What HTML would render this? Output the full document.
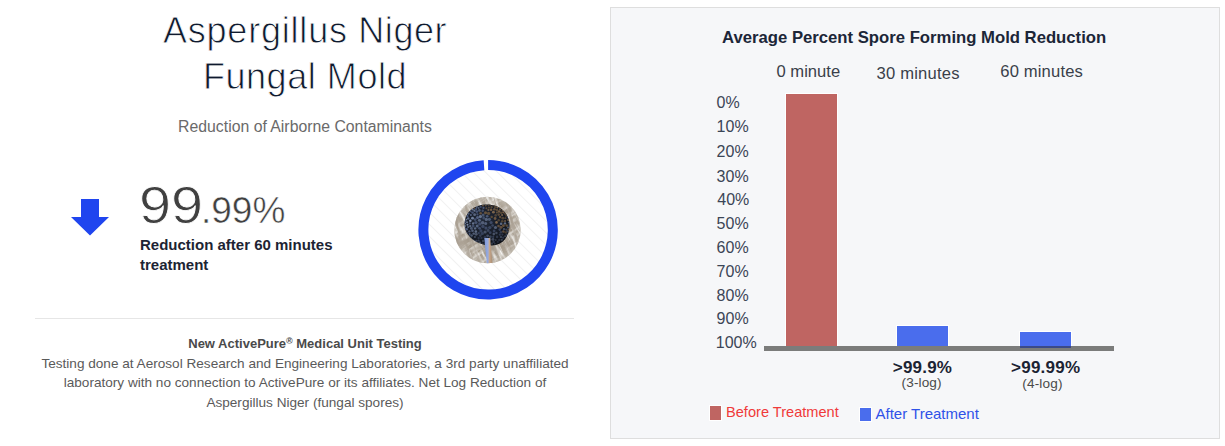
<!DOCTYPE html>
<html>
<head>
<meta charset="utf-8">
<style>
html,body{margin:0;padding:0;background:#fff;}
body{width:1225px;height:446px;position:relative;overflow:hidden;font-family:"Liberation Sans",Arial,sans-serif;}
.a{position:absolute;white-space:nowrap;line-height:1;}
#title{left:105px;width:400px;top:8px;font-size:36px;line-height:46px;color:#0f1a2e;text-align:center;letter-spacing:0.55px;-webkit-text-stroke:0.8px #fff;}
#sub{left:105px;width:400px;top:119.3px;font-size:15.8px;color:#6a6a6a;text-align:center;}
#big{left:139px;top:180px;font-size:51px;color:#404040;transform:scaleX(1.13);transform-origin:0 0;-webkit-text-stroke:0.8px #fff;}
#big2{left:201px;top:191.5px;font-size:37px;color:#404040;transform:scaleX(1.0);transform-origin:0 0;-webkit-text-stroke:0.5px #fff;}
#red{left:140px;top:234.5px;font-size:15px;line-height:20px;font-weight:700;color:#1d2433;white-space:normal;width:220px;}
#hr{position:absolute;left:35px;top:318px;width:539px;height:1px;background:#e6e6e6;}
#foot{left:35px;width:540px;top:334px;font-size:13.6px;line-height:19.6px;color:#5a5a5a;text-align:center;white-space:normal;}
#foot b{color:#4a4a4a;font-size:13px;}
#panel{position:absolute;left:610px;top:7px;width:608px;height:430px;border:1px solid #dedede;background:#f6f7f9;}
#ctitle{left:722px;top:30px;font-size:16.7px;font-weight:700;color:#1c2638;}
.min{font-size:16.6px;color:#3a3f4a;}
.yl{font-size:16px;color:#3b4556;}
.bl{font-size:17px;font-weight:700;color:#1c2433;}
.lg{font-size:13.6px;color:#4a4a4a;}
</style>
</head>
<body>
<div class="a" id="title"><span style="letter-spacing:0.8px">Aspergillus</span> Niger<br>Fungal Mold</div>
<div class="a" id="sub">Reduction of Airborne Contaminants</div>

<svg style="position:absolute;left:0;top:0" width="600" height="320">
  <polygon points="81,199 99,199 99,217 109,217 90,235.5 71,217 81,217" fill="#1f45ef"/>
</svg>

<div class="a" id="big">99</div><div class="a" id="big2">.99%</div>
<div class="a" id="red">Reduction after 60 minutes treatment</div>

<!-- donut -->
<svg style="position:absolute;left:408px;top:149px" width="160" height="160" viewBox="408 149 160 160">
  <defs>
    <pattern id="st" patternUnits="userSpaceOnUse" width="8.5" height="8.5" patternTransform="rotate(-45)">
      <rect width="8.5" height="8.5" fill="#fff"/>
      <rect x="0" y="0" width="0.8" height="8.5" fill="#efefef"/>
    </pattern>
    <clipPath id="pc"><circle cx="487.5" cy="230" r="33.2"/></clipPath>
    <clipPath id="hc"><path d="M464.6 225 C464.6 212 474 204.5 487 204.5 C500 204.5 509.5 213 509.5 225 C509.5 236 503 245.5 492 245.5 C480 246 465 238 464.6 225 Z"/></clipPath>
    <radialGradient id="bg" cx="0.5" cy="0.5" r="0.5">
      <stop offset="0" stop-color="#857968"/>
      <stop offset="0.7" stop-color="#aba193"/>
      <stop offset="1" stop-color="#cbc6bd"/>
    </radialGradient>
    <radialGradient id="hd" cx="0.42" cy="0.4" r="0.62">
      <stop offset="0" stop-color="#222a3a"/>
      <stop offset="0.6" stop-color="#161b25"/>
      <stop offset="1" stop-color="#0c0e12"/>
    </radialGradient>
    <linearGradient id="stk" x1="0" y1="0" x2="1" y2="0">
      <stop offset="0" stop-color="#7d98d8"/>
      <stop offset="0.45" stop-color="#98ace0"/>
      <stop offset="0.6" stop-color="#c8a88c"/>
      <stop offset="1" stop-color="#a88c72"/>
    </linearGradient>
    <filter id="fib" filterUnits="userSpaceOnUse" x="430" y="170" width="116" height="116">
      <feTurbulence type="fractalNoise" baseFrequency="0.05 0.32" numOctaves="2" seed="4"/>
      <feColorMatrix type="matrix" values="0 0 0 0 0.92  0 0 0 0 0.91  0 0 0 0 0.89  3.2 0 0 0 -1.45"/>
    </filter>
    <filter id="fib2" filterUnits="userSpaceOnUse" x="430" y="170" width="116" height="116">
      <feTurbulence type="fractalNoise" baseFrequency="0.05 0.3" numOctaves="2" seed="9"/>
      <feColorMatrix type="matrix" values="0 0 0 0 0.40  0 0 0 0 0.35  0 0 0 0 0.29  3.2 0 0 0 -1.35"/>
    </filter>
  </defs>
  <circle cx="488.1" cy="229.8" r="60" fill="url(#st)"/>
  <path d="M488.1 165.1 A64.7 64.7 0 1 1 484.0 165.23" fill="none" stroke="#1f45ef" stroke-width="10"/>
  <g clip-path="url(#pc)">
    <rect x="450" y="192" width="76" height="76" fill="url(#bg)"/>
    <rect x="430" y="170" width="116" height="116" filter="url(#fib)" transform="rotate(60 487.5 230)"/>
    <rect x="430" y="170" width="116" height="116" filter="url(#fib)" transform="rotate(-35 487.5 230)" opacity="0.7"/>
    <rect x="430" y="170" width="116" height="116" filter="url(#fib2)" transform="rotate(75 487.5 230)"/>
        <g clip-path="url(#hc)">
      <rect x="460" y="200" width="54" height="50" fill="url(#hd)"/>
<circle cx="491.1" cy="222.5" r="1.6" fill="#55648a" opacity="0.59"/>
<circle cx="488.4" cy="210.0" r="1.1" fill="#8c7052" opacity="0.72"/>
<circle cx="473.1" cy="223.4" r="1.2" fill="#8292b2" opacity="0.71"/>
<circle cx="496.5" cy="222.4" r="1.3" fill="#8c7052" opacity="0.90"/>
<circle cx="487.6" cy="235.8" r="1.4" fill="#7486a8" opacity="0.45"/>
<circle cx="480.7" cy="206.9" r="1.1" fill="#55648a" opacity="0.62"/>
<circle cx="499.7" cy="229.6" r="1.3" fill="#55648a" opacity="0.56"/>
<circle cx="494.1" cy="231.0" r="1.4" fill="#55648a" opacity="0.51"/>
<circle cx="508.2" cy="219.9" r="1.0" fill="#8c7052" opacity="0.87"/>
<circle cx="498.7" cy="220.2" r="1.2" fill="#62503a" opacity="0.73"/>
<circle cx="490.2" cy="232.7" r="1.4" fill="#55648a" opacity="0.50"/>
<circle cx="478.6" cy="208.1" r="1.0" fill="#8292b2" opacity="0.55"/>
<circle cx="493.4" cy="212.2" r="1.4" fill="#8c7052" opacity="0.85"/>
<circle cx="472.5" cy="218.2" r="1.4" fill="#8292b2" opacity="0.84"/>
<circle cx="501.2" cy="212.8" r="1.3" fill="#62503a" opacity="0.85"/>
<circle cx="490.3" cy="239.5" r="1.3" fill="#63739a" opacity="0.39"/>
<circle cx="479.4" cy="220.2" r="1.5" fill="#7486a8" opacity="0.64"/>
<circle cx="477.5" cy="217.4" r="1.5" fill="#63739a" opacity="0.75"/>
<circle cx="476.1" cy="209.0" r="1.1" fill="#55648a" opacity="0.80"/>
<circle cx="499.8" cy="234.7" r="1.1" fill="#55648a" opacity="0.47"/>
<circle cx="489.0" cy="243.7" r="1.1" fill="#7486a8" opacity="0.34"/>
<circle cx="467.0" cy="222.2" r="1.0" fill="#8292b2" opacity="0.78"/>
<circle cx="485.5" cy="212.8" r="1.5" fill="#6e5840" opacity="0.91"/>
<circle cx="475.9" cy="222.5" r="1.6" fill="#63739a" opacity="0.60"/>
<circle cx="505.0" cy="223.4" r="1.2" fill="#8292b2" opacity="0.65"/>
<circle cx="479.9" cy="242.6" r="1.2" fill="#8292b2" opacity="0.42"/>
<circle cx="495.7" cy="239.9" r="1.0" fill="#7486a8" opacity="0.31"/>
<circle cx="469.4" cy="231.4" r="1.2" fill="#63739a" opacity="0.63"/>
<circle cx="479.5" cy="228.3" r="1.4" fill="#55648a" opacity="0.68"/>
<circle cx="502.1" cy="215.0" r="1.1" fill="#8c7052" opacity="0.79"/>
<circle cx="489.8" cy="227.6" r="1.7" fill="#63739a" opacity="0.46"/>
<circle cx="475.1" cy="228.4" r="1.2" fill="#7486a8" opacity="0.72"/>
<circle cx="485.7" cy="223.6" r="1.5" fill="#7486a8" opacity="0.60"/>
<circle cx="481.5" cy="238.0" r="1.1" fill="#55648a" opacity="0.37"/>
<circle cx="473.7" cy="233.6" r="1.2" fill="#7486a8" opacity="0.62"/>
<circle cx="483.5" cy="207.9" r="1.1" fill="#63739a" opacity="0.65"/>
<circle cx="495.5" cy="227.5" r="1.6" fill="#8292b2" opacity="0.56"/>
<circle cx="503.4" cy="225.7" r="1.4" fill="#6e5840" opacity="0.88"/>
<circle cx="491.7" cy="216.9" r="1.2" fill="#62503a" opacity="0.90"/>
<circle cx="486.0" cy="228.1" r="1.6" fill="#55648a" opacity="0.58"/>
<circle cx="468.5" cy="213.7" r="1.1" fill="#63739a" opacity="0.74"/>
<circle cx="476.4" cy="240.9" r="1.2" fill="#55648a" opacity="0.49"/>
<circle cx="468.6" cy="236.0" r="1.1" fill="#8292b2" opacity="0.52"/>
<circle cx="482.3" cy="233.5" r="1.6" fill="#55648a" opacity="0.51"/>
<circle cx="505.7" cy="232.4" r="1.2" fill="#62503a" opacity="0.66"/>
<circle cx="483.7" cy="218.0" r="1.4" fill="#63739a" opacity="0.51"/>
<circle cx="470.3" cy="220.7" r="1.3" fill="#8292b2" opacity="0.89"/>
<circle cx="499.3" cy="240.0" r="1.2" fill="#63739a" opacity="0.29"/>
<circle cx="497.1" cy="236.9" r="1.3" fill="#63739a" opacity="0.33"/>
<circle cx="488.6" cy="213.4" r="1.6" fill="#62503a" opacity="0.93"/>
<circle cx="483.1" cy="214.9" r="1.5" fill="#7486a8" opacity="0.50"/>
<circle cx="478.7" cy="233.1" r="1.2" fill="#55648a" opacity="0.50"/>
<circle cx="508.0" cy="227.4" r="1.1" fill="#8292b2" opacity="0.50"/>
<circle cx="491.9" cy="243.7" r="1.1" fill="#7486a8" opacity="0.34"/>
<circle cx="502.3" cy="221.2" r="1.3" fill="#62503a" opacity="0.78"/>
<circle cx="496.4" cy="233.0" r="1.2" fill="#8292b2" opacity="0.40"/>
<circle cx="476.8" cy="211.6" r="1.3" fill="#55648a" opacity="0.78"/>
<circle cx="491.6" cy="207.1" r="1.2" fill="#62503a" opacity="0.82"/>
<circle cx="467.5" cy="224.7" r="1.0" fill="#8292b2" opacity="0.94"/>
<circle cx="500.1" cy="217.0" r="1.2" fill="#62503a" opacity="0.95"/>
<circle cx="494.5" cy="209.2" r="1.3" fill="#806448" opacity="0.73"/>
<circle cx="507.6" cy="231.4" r="1.2" fill="#7486a8" opacity="0.42"/>
<circle cx="493.6" cy="241.9" r="1.2" fill="#63739a" opacity="0.36"/>
<circle cx="497.4" cy="207.4" r="1.1" fill="#8c7052" opacity="0.85"/>
<circle cx="500.9" cy="236.9" r="1.2" fill="#8292b2" opacity="0.36"/>
<circle cx="470.8" cy="238.5" r="1.1" fill="#7486a8" opacity="0.58"/>
<circle cx="483.1" cy="240.9" r="1.2" fill="#7486a8" opacity="0.38"/>
<circle cx="468.2" cy="218.4" r="1.2" fill="#8292b2" opacity="0.70"/>
<circle cx="487.3" cy="239.0" r="1.3" fill="#8292b2" opacity="0.34"/>
<circle cx="470.2" cy="226.2" r="1.1" fill="#8292b2" opacity="0.64"/>
<circle cx="480.6" cy="213.2" r="1.3" fill="#6e5840" opacity="0.81"/>
<circle cx="471.4" cy="228.4" r="1.4" fill="#7486a8" opacity="0.59"/>
<circle cx="493.2" cy="236.9" r="1.1" fill="#55648a" opacity="0.45"/>
<circle cx="506.2" cy="215.8" r="1.1" fill="#62503a" opacity="0.71"/>
<circle cx="503.1" cy="237.7" r="1.1" fill="#63739a" opacity="0.35"/>
<circle cx="486.3" cy="219.4" r="1.6" fill="#8292b2" opacity="0.57"/>
<circle cx="508.8" cy="222.6" r="1.0" fill="#8292b2" opacity="0.52"/>
<circle cx="495.7" cy="215.4" r="1.3" fill="#6e5840" opacity="0.66"/>
<circle cx="500.1" cy="209.4" r="1.1" fill="#6e5840" opacity="0.92"/>
<circle cx="505.1" cy="236.3" r="1.0" fill="#8292b2" opacity="0.39"/>
<circle cx="477.2" cy="226.0" r="1.5" fill="#7486a8" opacity="0.66"/>
<circle cx="504.0" cy="229.1" r="1.1" fill="#8292b2" opacity="0.51"/>
<circle cx="472.6" cy="240.0" r="1.0" fill="#63739a" opacity="0.50"/>
<circle cx="474.6" cy="214.7" r="1.4" fill="#8292b2" opacity="0.60"/>
<circle cx="472.5" cy="212.6" r="1.2" fill="#55648a" opacity="0.79"/>
<circle cx="466.5" cy="232.9" r="1.1" fill="#63739a" opacity="0.65"/>
<circle cx="464.8" cy="226.0" r="1.0" fill="#8292b2" opacity="0.94"/>
<circle cx="486.4" cy="208.2" r="1.0" fill="#6e5840" opacity="0.78"/>
<circle cx="478.6" cy="238.0" r="1.1" fill="#55648a" opacity="0.41"/>
<circle cx="505.1" cy="213.8" r="1.1" fill="#6e5840" opacity="0.73"/>
<circle cx="471.6" cy="235.5" r="1.3" fill="#7486a8" opacity="0.54"/>
<circle cx="485.2" cy="243.7" r="1.0" fill="#7486a8" opacity="0.28"/>
<circle cx="496.9" cy="212.5" r="1.1" fill="#62503a" opacity="0.92"/>
<circle cx="501.1" cy="223.7" r="1.3" fill="#8292b2" opacity="0.64"/>
<circle cx="488.9" cy="207.6" r="1.1" fill="#62503a" opacity="0.75"/>
<circle cx="485.1" cy="232.0" r="1.6" fill="#8292b2" opacity="0.44"/>
<circle cx="495.1" cy="218.5" r="1.4" fill="#806448" opacity="0.81"/>
<circle cx="482.6" cy="222.7" r="1.7" fill="#8292b2" opacity="0.53"/>
<circle cx="477.4" cy="214.3" r="1.1" fill="#55648a" opacity="0.69"/>
<circle cx="502.8" cy="218.2" r="1.4" fill="#62503a" opacity="0.76"/>
<circle cx="474.9" cy="237.0" r="1.1" fill="#7486a8" opacity="0.45"/>
<circle cx="500.9" cy="232.2" r="1.3" fill="#63739a" opacity="0.38"/>
<circle cx="501.0" cy="227.3" r="1.5" fill="#806448" opacity="0.70"/>
<circle cx="480.4" cy="216.6" r="1.6" fill="#8292b2" opacity="0.71"/>
<circle cx="485.0" cy="237.2" r="1.3" fill="#55648a" opacity="0.41"/>
<circle cx="472.6" cy="209.4" r="1.0" fill="#8292b2" opacity="0.79"/>
<circle cx="485.8" cy="205.5" r="1.0" fill="#62503a" opacity="0.85"/>
<circle cx="482.8" cy="243.5" r="1.0" fill="#63739a" opacity="0.28"/>
<circle cx="498.5" cy="226.0" r="1.3" fill="#806448" opacity="0.68"/>
<circle cx="505.1" cy="221.0" r="1.1" fill="#8c7052" opacity="0.69"/>
<circle cx="479.4" cy="210.4" r="1.3" fill="#7486a8" opacity="0.55"/>
<circle cx="466.8" cy="229.2" r="1.2" fill="#63739a" opacity="0.75"/>
<circle cx="482.9" cy="226.4" r="1.7" fill="#55648a" opacity="0.56"/>
<circle cx="475.1" cy="219.6" r="1.4" fill="#55648a" opacity="0.69"/>
<circle cx="472.5" cy="230.7" r="1.3" fill="#7486a8" opacity="0.62"/>
<circle cx="479.8" cy="223.9" r="1.7" fill="#55648a" opacity="0.62"/>
<circle cx="491.1" cy="209.7" r="1.3" fill="#806448" opacity="0.86"/>
<circle cx="470.9" cy="215.1" r="1.0" fill="#63739a" opacity="0.81"/>
<circle cx="503.4" cy="212.3" r="1.1" fill="#806448" opacity="0.94"/>
<circle cx="487.2" cy="216.2" r="1.3" fill="#63739a" opacity="0.65"/>
<circle cx="488.6" cy="205.1" r="1.0" fill="#62503a" opacity="0.76"/>
<circle cx="467.4" cy="216.2" r="1.1" fill="#55648a" opacity="0.89"/>
<circle cx="497.8" cy="241.9" r="1.1" fill="#55648a" opacity="0.29"/>
<circle cx="502.4" cy="234.6" r="1.1" fill="#63739a" opacity="0.35"/>
<circle cx="501.8" cy="239.8" r="1.1" fill="#8292b2" opacity="0.38"/>
<circle cx="498.7" cy="214.6" r="1.3" fill="#6e5840" opacity="0.78"/>
<circle cx="505.5" cy="218.2" r="1.1" fill="#6e5840" opacity="0.66"/>
<circle cx="469.6" cy="233.9" r="1.0" fill="#63739a" opacity="0.71"/>
<circle cx="482.9" cy="205.4" r="1.0" fill="#62503a" opacity="0.94"/>
<circle cx="494.8" cy="243.7" r="1.0" fill="#8292b2" opacity="0.25"/>
<circle cx="469.8" cy="223.3" r="1.1" fill="#55648a" opacity="0.72"/>
<circle cx="508.7" cy="229.5" r="1.1" fill="#6e5840" opacity="0.84"/>
<circle cx="495.1" cy="207.0" r="1.1" fill="#62503a" opacity="0.91"/>
<circle cx="470.6" cy="211.3" r="1.0" fill="#55648a" opacity="0.77"/>
<circle cx="496.9" cy="210.0" r="1.3" fill="#62503a" opacity="0.87"/>
<circle cx="475.9" cy="231.6" r="1.3" fill="#8292b2" opacity="0.67"/>
<circle cx="480.9" cy="230.9" r="1.6" fill="#55648a" opacity="0.51"/>
<circle cx="506.7" cy="225.5" r="1.2" fill="#62503a" opacity="0.94"/>
<circle cx="466.4" cy="219.6" r="0.9" fill="#8292b2" opacity="0.76"/>
<circle cx="493.8" cy="234.1" r="1.3" fill="#8292b2" opacity="0.46"/>
<circle cx="482.7" cy="210.7" r="1.2" fill="#63739a" opacity="0.52"/>
<circle cx="507.9" cy="217.5" r="0.9" fill="#55648a" opacity="0.52"/>
<circle cx="492.6" cy="225.5" r="1.3" fill="#63739a" opacity="0.46"/>
<circle cx="489.4" cy="219.3" r="1.6" fill="#7486a8" opacity="0.54"/>
<circle cx="474.4" cy="208.0" r="0.9" fill="#6e5840" opacity="0.81"/>
<circle cx="476.8" cy="206.8" r="1.0" fill="#8292b2" opacity="0.74"/>
<circle cx="477.9" cy="243.4" r="0.9" fill="#55648a" opacity="0.38"/>
<circle cx="476.2" cy="234.3" r="1.4" fill="#8292b2" opacity="0.49"/>
<circle cx="502.6" cy="210.3" r="1.0" fill="#8c7052" opacity="0.70"/>
<circle cx="493.4" cy="205.3" r="0.9" fill="#62503a" opacity="0.67"/>
<circle cx="474.3" cy="241.6" r="1.1" fill="#7486a8" opacity="0.42"/>
<circle cx="465.1" cy="223.5" r="0.9" fill="#63739a" opacity="0.97"/>
<circle cx="490.6" cy="204.8" r="1.0" fill="#62503a" opacity="0.66"/>
<circle cx="509.4" cy="224.9" r="1.0" fill="#63739a" opacity="0.62"/>
<circle cx="490.4" cy="236.8" r="1.4" fill="#7486a8" opacity="0.39"/>
<circle cx="487.5" cy="241.8" r="1.3" fill="#8292b2" opacity="0.27"/>
<circle cx="468.1" cy="227.1" r="1.1" fill="#7486a8" opacity="0.65"/>
<circle cx="499.0" cy="211.5" r="1.3" fill="#806448" opacity="0.87"/>
<circle cx="478.7" cy="240.5" r="1.0" fill="#7486a8" opacity="0.36"/>
<circle cx="488.1" cy="230.5" r="1.4" fill="#63739a" opacity="0.45"/>
<circle cx="506.7" cy="234.7" r="1.1" fill="#7486a8" opacity="0.38"/>
<circle cx="464.9" cy="221.1" r="1.1" fill="#55648a" opacity="0.75"/>
<circle cx="464.9" cy="228.3" r="1.1" fill="#55648a" opacity="0.76"/>
<circle cx="474.4" cy="210.7" r="1.1" fill="#8292b2" opacity="0.74"/>
<circle cx="506.3" cy="229.6" r="1.1" fill="#7486a8" opacity="0.42"/>
<circle cx="486.9" cy="245.1" r="0.9" fill="#55648a" opacity="0.28"/>
<circle cx="503.4" cy="231.5" r="1.2" fill="#806448" opacity="0.70"/>
<circle cx="480.3" cy="235.6" r="1.3" fill="#55648a" opacity="0.46"/>
<circle cx="473.1" cy="226.1" r="1.5" fill="#55648a" opacity="0.64"/>
<circle cx="493.0" cy="239.4" r="1.3" fill="#8292b2" opacity="0.42"/>
    </g>
    <path d="M484.3 238 C485 246 486.2 256 486.9 264 L492.6 264 C491.8 256 490.8 246 490.2 238 Z" fill="url(#stk)"/>
  </g>
</svg>

<div id="hr"></div>
<div class="a" id="foot"><b>New ActivePure<span style="font-size:9px;line-height:1;position:relative;top:-4px">®</span> Medical Unit Testing</b><br>Testing done at Aerosol Research and Engineering Laboratories, a 3rd party unaffiliated laboratory with no connection to ActivePure or its affiliates. Net Log Reduction of Aspergillus Niger (fungal spores)</div>

<!-- chart panel -->
<div id="panel"></div>
<div class="a" id="ctitle">Average Percent Spore Forming Mold Reduction</div>
<div class="a min" style="left:776.5px;top:64.3px">0 minute</div>
<div class="a min" style="left:876.5px;top:65.5px;letter-spacing:0.2px">30 minutes</div>
<div class="a min" style="left:1000.3px;top:64.2px;letter-spacing:0.15px">60 minutes</div>

<div class="a yl" style="left:716.6px;top:95.16px">0%</div>
<div class="a yl" style="left:716.6px;top:119.16px">10%</div>
<div class="a yl" style="left:716.6px;top:143.76px">20%</div>
<div class="a yl" style="left:716.6px;top:169.26px">30%</div>
<div class="a yl" style="left:717.3px;top:192.26px">40%</div>
<div class="a yl" style="left:716.6px;top:215.86px">50%</div>
<div class="a yl" style="left:716.6px;top:239.86px">60%</div>
<div class="a yl" style="left:716.6px;top:264.06px">70%</div>
<div class="a yl" style="left:716.6px;top:287.76px">80%</div>
<div class="a yl" style="left:716.6px;top:311.16px">90%</div>
<div class="a yl" style="left:715.8px;top:335.26px">100%</div>

<div style="position:absolute;left:786px;top:94px;width:51px;height:252px;background:#bf6562;box-shadow:0 0 0 1px #fff"></div>
<div style="position:absolute;left:897px;top:326px;width:51px;height:20px;background:#4a6ded;box-shadow:0 0 0 1px #fff"></div>
<div style="position:absolute;left:1020px;top:332px;width:51px;height:14px;background:#4a6ded;box-shadow:0 0 0 1px #fff"></div>
<div style="position:absolute;left:764px;top:346px;width:350px;height:5px;background:#7b7c7b"></div>
<div style="position:absolute;left:1020px;top:346px;width:51px;height:1.5px;background:#2c3d8c;opacity:0.8"></div>

<div class="a bl" style="left:892.8px;top:358.8px;letter-spacing:0.2px">&gt;99.9%</div>
<div class="a lg" style="left:901.6px;top:376px;letter-spacing:0.1px">(3-log)</div>
<div class="a bl" style="left:1011px;top:358.8px;letter-spacing:0.25px">&gt;99.99%</div>
<div class="a lg" style="left:1022.3px;top:377px;letter-spacing:0.15px">(4-log)</div>

<div style="position:absolute;left:710px;top:406px;width:11px;height:14px;background:#bf6562;box-shadow:0 0 0 1px #fff"></div>
<div class="a" style="left:726px;top:405px;font-size:14.6px;color:#f03a3a">Before Treatment</div>
<div style="position:absolute;left:860px;top:408px;width:11px;height:13px;background:#4a6ded;box-shadow:0 0 0 1px #fff"></div>
<div class="a" style="left:875.5px;top:406px;font-size:15px;color:#2f52e8">After Treatment</div>
</body>
</html>
